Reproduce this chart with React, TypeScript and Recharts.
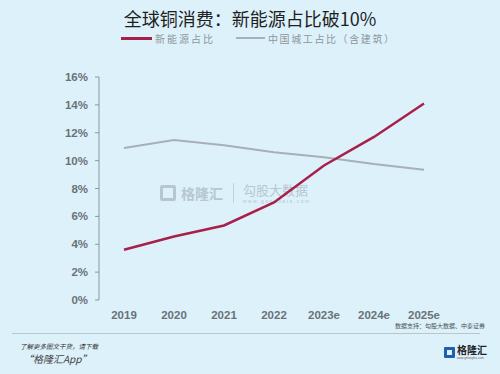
import React from "react";
import { LineChart, Line, XAxis, YAxis, Legend } from "recharts";

const categories = ["2019", "2020", "2021", "2022", "2023e", "2024e", "2025e"];
const newEnergyShare = [3.6, 4.55, 5.35, 7.0, 9.65, 11.7, 14.1];
const chinaConstructionShare = [10.9, 11.48, 11.1, 10.6, 10.25, 9.75, 9.35];
const yTicks = [0, 2, 4, 6, 8, 10, 12, 14, 16];
const seriesNames = ["新能源占比", "中国城工占比（含建筑）"];

const data = categories.map((c, i) => ({
  pos: i + 0.5,
  name: c,
  newEnergy: newEnergyShare[i],
  china: chinaConstructionShare[i],
}));

const boundaryTicks = categories.map((_, i) => i).concat([categories.length]);
const centerTicks = categories.map((_, i) => i + 0.5);

const BG = "#ddf1fb";
const RED = "#a8204a";
const GRAY = "#a6b0b6";
const AXIS = "#8d969b";
const TICKTXT = "#6a7277";
const FONT = "Arial, 'Liberation Sans', 'Noto Sans CJK SC', sans-serif";
const CJK = "'Noto Sans CJK SC', sans-serif";

const LegendContent = (props: any) => {
  const payload = [...(props.payload || [])].sort(
    (a: any, b: any) => seriesNames.indexOf(a.value) - seriesNames.indexOf(b.value)
  );
  return (
    <div style={{ position: "relative", height: 14 }}>
      {payload.map((p: any, i: number) => {
        const left = i === 0 ? 121 : 236;
        const lineW = i === 0 ? 31 : 29;
        return (
          <div key={i} style={{ position: "absolute", left, top: 0, display: "flex", alignItems: "center", height: 14 }}>
            <div style={{ width: lineW, height: i === 0 ? 3 : 2, background: p.color }} />
            <span style={{ marginLeft: 3, fontFamily: CJK, fontSize: 10, letterSpacing: i === 0 ? 2 : 1.6, color: "#8e979c", whiteSpace: "nowrap" }}>{p.value}</span>
          </div>
        );
      })}
    </div>
  );
};

export default function App() {
  return (
    <div style={{ position: "absolute", left: 0, top: 0, width: 500, height: 374, background: BG, overflow: "hidden" }}>
      <div style={{ position: "absolute", left: 0, top: 6, width: 500, textAlign: "center", fontFamily: CJK, fontSize: 18, color: "#1f1f1f", lineHeight: "24px" }}>
        全球铜消费：新能源占比破10%
      </div>
      {/* watermark */}
      <div style={{ position: "absolute", left: 160, top: 181, display: "flex", alignItems: "center", color: "#b6c7d1", fontFamily: CJK }}>
        <div style={{ width: 16, height: 16, border: "3px solid #b6c7d1", boxSizing: "border-box", borderRadius: 2 }} />
        <span style={{ marginLeft: 5, fontSize: 14, fontWeight: 700 }}>格隆汇</span>
        <div style={{ width: 1, height: 20, background: "#c3d2da", marginLeft: 10, marginRight: 9 }} />
        <div style={{ display: "flex", flexDirection: "column" }}>
          <span style={{ fontSize: 13, lineHeight: "17px" }}>勾股大数据</span>
          <span style={{ fontSize: 5, lineHeight: "7px", letterSpacing: 1.5, fontFamily: FONT }}>www.gogudata.com</span>
        </div>
      </div>
      <LineChart
        width={500}
        height={374}
        data={data}
        margin={{ top: 63, right: 51, bottom: 44, left: 39 }}
        style={{ position: "absolute", left: 0, top: 0 }}
      >
        <Legend
          verticalAlign="top"
          align="left"
          content={<LegendContent />}
          wrapperStyle={{ position: "absolute", top: 31, left: 0, width: 500 }}
        />
        <XAxis
          xAxisId="lines"
          dataKey="pos"
          type="number"
          domain={[0, categories.length]}
          ticks={boundaryTicks}
          tick={false}
          tickSize={3}
          stroke={AXIS}
          height={0}
        />
        <XAxis
          xAxisId="labels"
          dataKey="pos"
          type="number"
          domain={[0, categories.length]}
          ticks={centerTicks}
          tickFormatter={(v: number) => categories[Math.floor(v)]}
          axisLine={false}
          tickLine={false}
          tickMargin={5}
          tick={{ fill: TICKTXT, fontSize: 11.5, fontWeight: 700, fontFamily: FONT }}
          height={30}
          orientation="bottom"
        />
        <YAxis
          type="number"
          domain={[0, 16]}
          ticks={yTicks}
          interval={0}
          tickFormatter={(v: number) => `${v}%`}
          stroke={AXIS}
          tickSize={4}
          tickMargin={7}
          width={60}
          tick={{ fill: TICKTXT, fontSize: 11.5, fontWeight: 700, fontFamily: FONT }}
        />
        <Line
          xAxisId="lines"
          type="linear"
          dataKey="china"
          name={seriesNames[1]}
          stroke={GRAY}
          strokeWidth={2}
          dot={false}
          isAnimationActive={false}
        />
        <Line
          xAxisId="lines"
          type="linear"
          dataKey="newEnergy"
          name={seriesNames[0]}
          stroke={RED}
          strokeWidth={2.5}
          dot={false}
          isAnimationActive={false}
        />
      </LineChart>
      <div style={{ position: "absolute", left: 395, top: 322, fontFamily: CJK, fontSize: 6, lineHeight: "8px", color: "#4a5156", whiteSpace: "nowrap" }}>
        数据支持：勾股大数据、中泰证券
      </div>
      <div style={{ position: "absolute", left: 12, top: 333, width: 468, height: 1, background: "#b8c6ce" }} />
      <div style={{ position: "absolute", left: 20, top: 341, fontFamily: CJK, fontSize: 6.5, fontStyle: "italic", color: "#333", whiteSpace: "nowrap" }}>
        了解更多图文干货，请下载
      </div>
      <div style={{ position: "absolute", left: 23, top: 351, fontFamily: CJK, fontSize: 10, fontStyle: "italic", color: "#444", whiteSpace: "nowrap" }}>
        “格隆汇App”
      </div>
      <div style={{ position: "absolute", left: 444, top: 344, display: "flex", alignItems: "center" }}>
        <div style={{ width: 11, height: 11, border: "3px solid #1e5fb0", boxSizing: "border-box", borderRadius: 1 }} />
        <div style={{ display: "flex", flexDirection: "column", marginLeft: 2 }}>
          <span style={{ fontFamily: CJK, fontSize: 10, fontWeight: 700, color: "#222", lineHeight: "12px" }}>格隆汇</span>
          <span style={{ fontFamily: FONT, fontSize: 3, color: "#666", lineHeight: "5px" }}>www.gelonghui.com</span>
        </div>
      </div>
    </div>
  );
}
